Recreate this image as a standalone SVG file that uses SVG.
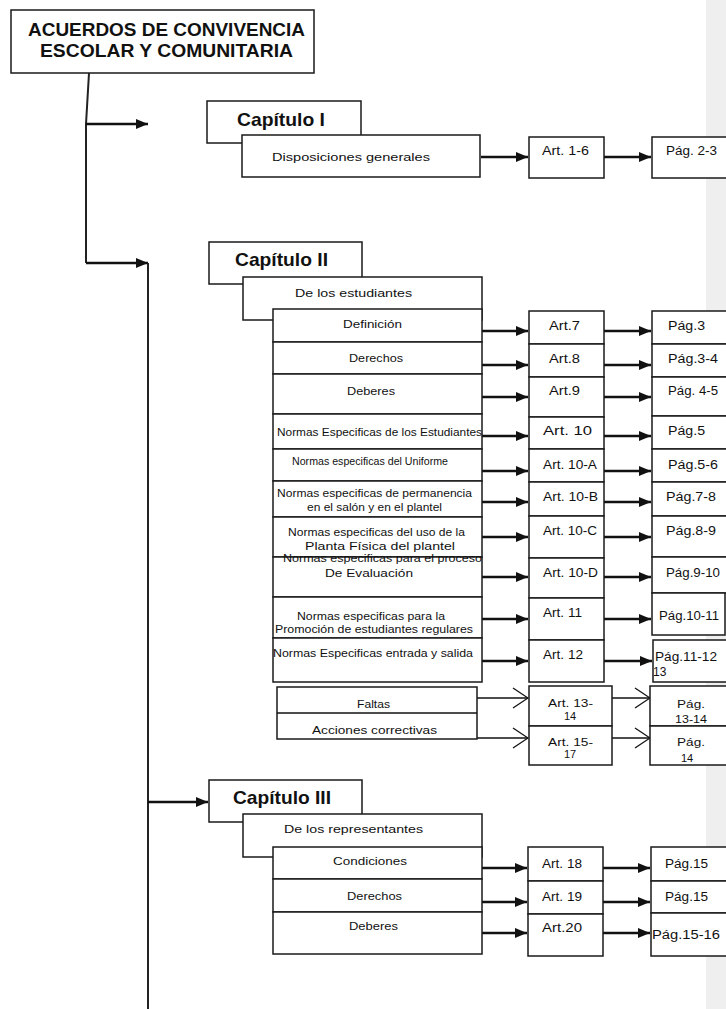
<svg xmlns="http://www.w3.org/2000/svg" width="726" height="1009" viewBox="0 0 726 1009">
<style>
.b{fill:#fff;stroke:#1a1a1a;stroke-width:1.5}
.t{font-family:"Liberation Sans",Arial,sans-serif;fill:#111}
.s{font-size:11px}
.m{font-size:12px}
.h{font-size:19px;font-weight:bold}
.ti{font-size:18px;font-weight:bold}
.c{stroke:#111;stroke-width:2.5;fill:none}
.tr{stroke:#222;stroke-width:2;fill:none}
.o{stroke:#111;stroke-width:1.3;fill:none}
</style>
<defs>
<marker id="ah" markerUnits="userSpaceOnUse" markerWidth="12" markerHeight="10" refX="12" refY="5" orient="auto" viewBox="0 0 12 10"><path d="M0,0 L12,5 L0,10 z" fill="#111"/></marker>
<marker id="oh" markerUnits="userSpaceOnUse" markerWidth="17" markerHeight="22" refX="16" refY="11" orient="auto" viewBox="0 0 17 22"><path d="M1,1 L16,11 L1,21" fill="none" stroke="#111" stroke-width="1.3"/></marker>
</defs>
<rect x="706" y="0" width="20" height="1009" fill="#efefef"/>

<g id="connectors">
<path class="tr" d="M89,73 L86,124 L86,263"/>
<line class="c" x1="86" y1="124" x2="148" y2="124" marker-end="url(#ah)"/>
<line class="c" x1="86" y1="263" x2="148" y2="263" marker-end="url(#ah)"/>
<line class="tr" x1="148" y1="263" x2="148" y2="1009"/>
<line class="c" x1="148" y1="802" x2="208" y2="802" marker-end="url(#ah)"/>
<line class="c" x1="481" y1="157" x2="528" y2="157" marker-end="url(#ah)"/>
<line class="c" x1="604" y1="157" x2="651" y2="157" marker-end="url(#ah)"/>
<g>
<line class="c" x1="482" y1="331" x2="528" y2="331" marker-end="url(#ah)"/>
<line class="c" x1="482" y1="365" x2="528" y2="365" marker-end="url(#ah)"/>
<line class="c" x1="482" y1="397" x2="528" y2="397" marker-end="url(#ah)"/>
<line class="c" x1="482" y1="436" x2="528" y2="436" marker-end="url(#ah)"/>
<line class="c" x1="482" y1="471" x2="528" y2="471" marker-end="url(#ah)"/>
<line class="c" x1="482" y1="502" x2="528" y2="502" marker-end="url(#ah)"/>
<line class="c" x1="482" y1="537" x2="528" y2="537" marker-end="url(#ah)"/>
<line class="c" x1="482" y1="577" x2="528" y2="577" marker-end="url(#ah)"/>
<line class="c" x1="482" y1="619" x2="528" y2="619" marker-end="url(#ah)"/>
<line class="c" x1="482" y1="661" x2="528" y2="661" marker-end="url(#ah)"/>
<line class="c" x1="604" y1="331" x2="651" y2="331" marker-end="url(#ah)"/>
<line class="c" x1="604" y1="365" x2="651" y2="365" marker-end="url(#ah)"/>
<line class="c" x1="604" y1="397" x2="651" y2="397" marker-end="url(#ah)"/>
<line class="c" x1="604" y1="436" x2="651" y2="436" marker-end="url(#ah)"/>
<line class="c" x1="604" y1="471" x2="651" y2="471" marker-end="url(#ah)"/>
<line class="c" x1="604" y1="502" x2="651" y2="502" marker-end="url(#ah)"/>
<line class="c" x1="604" y1="537" x2="651" y2="537" marker-end="url(#ah)"/>
<line class="c" x1="604" y1="577" x2="651" y2="577" marker-end="url(#ah)"/>
<line class="c" x1="604" y1="619" x2="651" y2="619" marker-end="url(#ah)"/>
<line class="c" x1="604" y1="661" x2="652" y2="661" marker-end="url(#ah)"/>
</g>
<line class="o" x1="477" y1="698" x2="528" y2="698" marker-end="url(#oh)"/>
<line class="o" x1="477" y1="738" x2="528" y2="738" marker-end="url(#oh)"/>
<line class="o" x1="612" y1="698" x2="650" y2="698" marker-end="url(#oh)"/>
<line class="o" x1="612" y1="738" x2="650" y2="738" marker-end="url(#oh)"/>
<line class="c" x1="482" y1="868" x2="527" y2="868" marker-end="url(#ah)"/>
<line class="c" x1="482" y1="902" x2="527" y2="902" marker-end="url(#ah)"/>
<line class="c" x1="482" y1="933" x2="527" y2="933" marker-end="url(#ah)"/>
<line class="c" x1="603" y1="868" x2="650" y2="868" marker-end="url(#ah)"/>
<line class="c" x1="603" y1="902" x2="650" y2="902" marker-end="url(#ah)"/>
<line class="c" x1="603" y1="933" x2="650" y2="933" marker-end="url(#ah)"/>
</g>

<g id="title">
<rect class="b" x="11" y="10" width="303" height="63"/>
<text class="t ti" x="28" y="36" textLength="277" lengthAdjust="spacingAndGlyphs">ACUERDOS DE CONVIVENCIA</text>
<text class="t ti" x="40" y="57" textLength="253" lengthAdjust="spacingAndGlyphs">ESCOLAR Y COMUNITARIA</text>
</g>

<g id="cap1">
<rect class="b" x="207" y="101" width="154" height="42"/>
<text class="t h" x="237" y="126" textLength="88" lengthAdjust="spacingAndGlyphs">Capítulo I</text>
</g>
<g id="cap1-disp">
<rect class="b" x="242" y="135" width="238" height="42"/>
<text class="t s" x="272" y="161" textLength="158" lengthAdjust="spacingAndGlyphs">Disposiciones generales</text>
</g>
<g id="cap1-art">
<rect class="b" x="529" y="137" width="75" height="41"/>
<text class="t m" x="542" y="155" textLength="47" lengthAdjust="spacingAndGlyphs">Art. 1-6</text>
</g>
<g id="cap1-pag">
<rect class="b" x="652" y="137" width="100" height="41"/>
<text class="t m" x="666" y="155" textLength="51" lengthAdjust="spacingAndGlyphs">Pág. 2-3</text>
</g>

<g id="cap2">
<rect class="b" x="209" y="242" width="153" height="42"/>
<text class="t h" x="235" y="266" textLength="93" lengthAdjust="spacingAndGlyphs">Capítulo II</text>
</g>
<g id="cap2-est">
<rect class="b" x="243" y="277" width="239" height="43"/>
<text class="t s" x="295" y="297" textLength="117" lengthAdjust="spacingAndGlyphs">De los estudiantes</text>
</g>
<g id="cap2-rows">
<g id="r-def"><rect class="b" x="273" y="309" width="209" height="33"/><text class="t s" x="343" y="328" textLength="59" lengthAdjust="spacingAndGlyphs">Definición</text></g>
<g id="r-der"><rect class="b" x="273" y="342" width="209" height="32"/><text class="t s" x="349" y="362" textLength="54" lengthAdjust="spacingAndGlyphs">Derechos</text></g>
<g id="r-deb"><rect class="b" x="273" y="374" width="209" height="40"/><text class="t s" x="347" y="395" textLength="48" lengthAdjust="spacingAndGlyphs">Deberes</text></g>
<g id="r-ne"><rect class="b" x="273" y="414" width="209" height="35"/><text class="t s" x="277" y="436" textLength="205" lengthAdjust="spacingAndGlyphs">Normas Especificas de los Estudiantes</text></g>
<g id="r-nu"><rect class="b" x="273" y="449" width="209" height="32"/><text class="t s" x="292" y="465" textLength="156" lengthAdjust="spacingAndGlyphs">Normas especificas del Uniforme</text></g>
<g id="r-np"><rect class="b" x="273" y="481" width="209" height="36"/><text class="t s" x="277" y="497" textLength="195" lengthAdjust="spacingAndGlyphs">Normas especificas de permanencia</text><text class="t s" x="307" y="511" textLength="135" lengthAdjust="spacingAndGlyphs">en el salón y en el plantel</text></g>
<g id="r-nf"><rect class="b" x="273" y="517" width="209" height="40"/><text class="t s" x="288" y="536" textLength="177" lengthAdjust="spacingAndGlyphs">Normas especificas del uso de la</text><text class="t s" x="305" y="550" textLength="150" lengthAdjust="spacingAndGlyphs">Planta Física del plantel</text></g>
<g id="r-nev"><rect class="b" x="273" y="557" width="209" height="40"/><text class="t s" x="283" y="562" textLength="199" lengthAdjust="spacingAndGlyphs">Normas especificas para el proceso</text><text class="t s" x="325" y="577" textLength="88" lengthAdjust="spacingAndGlyphs">De Evaluación</text></g>
<g id="r-npr"><rect class="b" x="273" y="597" width="209" height="41"/><text class="t s" x="297" y="620" textLength="148" lengthAdjust="spacingAndGlyphs">Normas especificas para la</text><text class="t s" x="275" y="633" textLength="198" lengthAdjust="spacingAndGlyphs">Promoción de estudiantes regulares</text></g>
<g id="r-nes"><rect class="b" x="273" y="638" width="209" height="44"/><text class="t s" x="273" y="657" textLength="200" lengthAdjust="spacingAndGlyphs">Normas Especificas entrada y salida</text></g>
</g>
<g id="cap2-art">
<g id="a7"><rect class="b" x="529" y="311" width="75" height="33"/><text class="t m" x="549" y="330" textLength="31" lengthAdjust="spacingAndGlyphs">Art.7</text></g>
<g id="a8"><rect class="b" x="529" y="344" width="75" height="33"/><text class="t m" x="549" y="363" textLength="31" lengthAdjust="spacingAndGlyphs">Art.8</text></g>
<g id="a9"><rect class="b" x="529" y="377" width="75" height="40"/><text class="t m" x="549" y="395" textLength="31" lengthAdjust="spacingAndGlyphs">Art.9</text></g>
<g id="a10"><rect class="b" x="529" y="417" width="75" height="32"/><text class="t m" x="543" y="435" textLength="49" lengthAdjust="spacingAndGlyphs">Art. 10</text></g>
<g id="a10a"><rect class="b" x="529" y="449" width="75" height="33"/><text class="t m" x="543" y="469" textLength="54" lengthAdjust="spacingAndGlyphs">Art. 10-A</text></g>
<g id="a10b"><rect class="b" x="529" y="482" width="75" height="34"/><text class="t m" x="543" y="501" textLength="55" lengthAdjust="spacingAndGlyphs">Art.  10-B</text></g>
<g id="a10c"><rect class="b" x="529" y="516" width="75" height="42"/><text class="t m" x="543" y="535" textLength="54" lengthAdjust="spacingAndGlyphs">Art. 10-C</text></g>
<g id="a10d"><rect class="b" x="529" y="558" width="75" height="40"/><text class="t m" x="543" y="577" textLength="55" lengthAdjust="spacingAndGlyphs">Art. 10-D</text></g>
<g id="a11"><rect class="b" x="529" y="598" width="75" height="42"/><text class="t m" x="543" y="617" textLength="39" lengthAdjust="spacingAndGlyphs">Art. 11</text></g>
<g id="a12"><rect class="b" x="529" y="640" width="75" height="42"/><text class="t m" x="543" y="659" textLength="40" lengthAdjust="spacingAndGlyphs">Art. 12</text></g>
</g>
<g id="cap2-pag">
<g id="p3"><rect class="b" x="652" y="311" width="100" height="33"/><text class="t m" x="668" y="330" textLength="37" lengthAdjust="spacingAndGlyphs">Pág.3</text></g>
<g id="p34"><rect class="b" x="652" y="344" width="100" height="33"/><text class="t m" x="668" y="363" textLength="50" lengthAdjust="spacingAndGlyphs">Pág.3-4</text></g>
<g id="p45"><rect class="b" x="652" y="377" width="100" height="39"/><text class="t m" x="668" y="395" textLength="50" lengthAdjust="spacingAndGlyphs">Pág. 4-5</text></g>
<g id="p5"><rect class="b" x="652" y="416" width="100" height="33"/><text class="t m" x="668" y="435" textLength="37" lengthAdjust="spacingAndGlyphs">Pág.5</text></g>
<g id="p56"><rect class="b" x="652" y="449" width="100" height="33"/><text class="t m" x="668" y="469" textLength="50" lengthAdjust="spacingAndGlyphs">Pág.5-6</text></g>
<g id="p78"><rect class="b" x="652" y="482" width="100" height="34"/><text class="t m" x="666" y="501" textLength="50" lengthAdjust="spacingAndGlyphs">Pág.7-8</text></g>
<g id="p89"><rect class="b" x="652" y="516" width="100" height="41"/><text class="t m" x="666" y="535" textLength="50" lengthAdjust="spacingAndGlyphs">Pág.8-9</text></g>
<g id="p910"><rect class="b" x="652" y="557" width="100" height="36"/><text class="t m" x="666" y="577" textLength="54" lengthAdjust="spacingAndGlyphs">Pág.9-10</text></g>
<g id="p1011"><rect class="b" x="652" y="593" width="73" height="42"/><text class="t m" x="659" y="620" textLength="60" lengthAdjust="spacingAndGlyphs">Pág.10-11</text></g>
<g id="p1112"><rect class="b" x="653" y="640" width="100" height="42"/><text class="t m" x="655" y="661" textLength="62" lengthAdjust="spacingAndGlyphs">Pág.11-12</text><text class="t m" x="653" y="676">13</text></g>
</g>
<g id="faltas">
<rect class="b" x="277" y="687" width="200" height="52"/>
<line class="o" x1="277" y1="713" x2="477" y2="713"/>
<text class="t s" x="357" y="708" textLength="33" lengthAdjust="spacingAndGlyphs">Faltas</text>
<text class="t s" x="312" y="734" textLength="125" lengthAdjust="spacingAndGlyphs">Acciones correctivas</text>
</g>
<g id="faltas-art">
<rect class="b" x="529" y="686" width="83" height="40"/>
<rect class="b" x="529" y="726" width="83" height="39"/>
<text class="t s" x="548" y="707" textLength="45" lengthAdjust="spacingAndGlyphs">Art. 13-</text>
<text class="t s" x="564" y="720">14</text>
<text class="t s" x="548" y="746" textLength="45" lengthAdjust="spacingAndGlyphs">Art. 15-</text>
<text class="t s" x="564" y="758">17</text>
</g>
<g id="faltas-pag">
<rect class="b" x="650" y="686" width="100" height="40"/>
<rect class="b" x="650" y="726" width="100" height="39"/>
<text class="t s" x="677" y="708" textLength="28" lengthAdjust="spacingAndGlyphs">Pág.</text>
<text class="t s" x="675" y="723" textLength="32" lengthAdjust="spacingAndGlyphs">13-14</text>
<text class="t s" x="677" y="746" textLength="28" lengthAdjust="spacingAndGlyphs">Pág.</text>
<text class="t s" x="681" y="762">14</text>
</g>

<g id="cap3">
<rect class="b" x="209" y="780" width="153" height="42"/>
<text class="t h" x="233" y="804" textLength="98" lengthAdjust="spacingAndGlyphs">Capítulo III</text>
</g>
<g id="cap3-rep">
<rect class="b" x="243" y="814" width="239" height="43"/>
<text class="t s" x="284" y="833" textLength="139" lengthAdjust="spacingAndGlyphs">De los representantes</text>
</g>
<g id="cap3-rows">
<g id="r3-con"><rect class="b" x="273" y="847" width="209" height="32"/><text class="t s" x="333" y="865" textLength="74" lengthAdjust="spacingAndGlyphs">Condiciones</text></g>
<g id="r3-der"><rect class="b" x="273" y="879" width="209" height="33"/><text class="t s" x="347" y="900" textLength="55" lengthAdjust="spacingAndGlyphs">Derechos</text></g>
<g id="r3-deb"><rect class="b" x="273" y="912" width="209" height="42"/><text class="t s" x="349" y="930" textLength="49" lengthAdjust="spacingAndGlyphs">Deberes</text></g>
</g>
<g id="cap3-art">
<g id="a18"><rect class="b" x="528" y="847" width="75" height="34"/><text class="t m" x="542" y="868" textLength="40" lengthAdjust="spacingAndGlyphs">Art. 18</text></g>
<g id="a19"><rect class="b" x="528" y="881" width="75" height="33"/><text class="t m" x="542" y="901" textLength="40" lengthAdjust="spacingAndGlyphs">Art. 19</text></g>
<g id="a20"><rect class="b" x="528" y="914" width="75" height="42"/><text class="t m" x="542" y="932" textLength="40" lengthAdjust="spacingAndGlyphs">Art.20</text></g>
</g>
<g id="cap3-pag">
<g id="p15a"><rect class="b" x="651" y="847" width="100" height="34"/><text class="t m" x="665" y="868" textLength="43" lengthAdjust="spacingAndGlyphs">Pág.15</text></g>
<g id="p15b"><rect class="b" x="651" y="881" width="100" height="32"/><text class="t m" x="665" y="901" textLength="43" lengthAdjust="spacingAndGlyphs">Pág.15</text></g>
<g id="p1516"><rect class="b" x="651" y="913" width="100" height="43"/><text class="t m" x="652" y="939" textLength="68" lengthAdjust="spacingAndGlyphs">Pág.15-16</text></g>
</g>
</svg>
